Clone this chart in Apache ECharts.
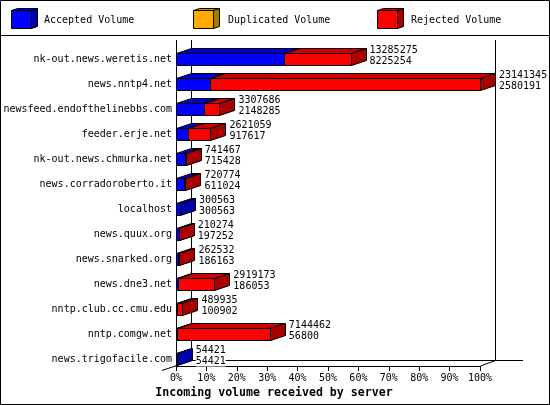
<!DOCTYPE html>
<html>
<head>
<meta charset="utf-8">
<style>html,body{margin:0;padding:0;background:#fff}#c{width:550px;height:405px}</style>
<script src="https://cdn.jsdelivr.net/npm/echarts@6/dist/echarts.min.js"></script>
</head>
<body>
<div id="c"></div>
<script>
var hosts = ['nk-out.news.weretis.net','news.nntp4.net','newsfeed.endofthelinebbs.com','feeder.erje.net','nk-out.news.chmurka.net','news.corradoroberto.it','localhost','news.quux.org','news.snarked.org','news.dne3.net','nntp.club.cc.cmu.edu','nntp.comgw.net','news.trigofacile.com'];
var totalLabels = [13285275,23141345,3307686,2621059,741467,720774,300563,210274,262532,2919173,489935,7144462,54421];
var acceptedVolume = [8225254,2580191,2148285,917617,715428,611024,300563,197252,186163,186053,100902,56800,54421];
var rejectedVolume = [5060021,20561154,1159401,1703442,26039,109750,0,13022,76369,2733120,389033,7087662,0];
var seriesNames = ['Accepted Volume','Duplicated Volume','Rejected Volume'];

var FONT = '"DejaVu Sans Mono", monospace';
var DX = 15, DY = 5, ROWSHIFT = 5.5, HALF = 6;
var BLUE = {front:'#0000ff', top:'#0000cc', side:'#0000aa'};
var ORANGE = {front:'#ffaa00', top:'#cc8800', side:'#aa7700'};
var RED = {front:'#ff0000', top:'#cc0000', side:'#aa0000'};
var maxV = Math.max.apply(null, totalLabels);
function pct(v){ return v / maxV * 100; }

function box(x0, x1, y0, y1, c, dx, dy){
  var st = function(fill){ return {fill:fill, stroke:'#000', lineWidth:1}; };
  return [
    {type:'polygon', shape:{points:[[x0,y0],[x0+dx,y0-dy],[x1+dx,y0-dy],[x1,y0]]}, style:st(c.top)},
    {type:'polygon', shape:{points:[[x1,y0],[x1+dx,y0-dy],[x1+dx,y1-dy],[x1,y1]]}, style:st(c.side)},
    {type:'polygon', shape:{points:[[x0,y0],[x1,y0],[x1,y1],[x0,y1]]}, style:st(c.front)}
  ];
}
function boxRender(colors){
  return function(params, api){
    if (api.value(1) <= api.value(0)) return null;
    var a = api.coord([api.value(0), api.value(2)]);
    var b = api.coord([api.value(1), api.value(2)]);
    var x0 = Math.round(a[0]) + 0.5, x1 = Math.round(b[0]) + 0.5;
    var y = Math.round(a[1] + ROWSHIFT);
    return {type:'group', children: box(x0, x1, y - HALF + 0.5, y + HALF + 0.5, colors, DX, DY)};
  };
}
function labelRender(params, api){
  var p = api.coord([api.value(0), api.value(1)]);
  var x = p[0] + DX + 4, y = p[1] + ROWSHIFT;
  var mk = function(t, dy){
    return {type:'text', style:{x:x, y:y + dy, text:String(t), font:'10px ' + FONT, fill:'#000',
      textAlign:'left', textVerticalAlign:'middle', backgroundColor:'#fff'}};
  };
  return {type:'group', children:[mk(api.value(2), -8.5), mk(api.value(3), 2.5)]};
}

function line(x1,y1,x2,y2){ return {type:'line', z:0, shape:{x1:x1,y1:y1,x2:x2,y2:y2}, style:{stroke:'#000', lineWidth:1}}; }
function swatch(x, c){ return box(x+.5, x+20.5, 10.5, 28.5, c, 6, 2); }
function legendText(x, t){
  return {type:'text', style:{x:x, y:20, text:t, font:'10px ' + FONT, fill:'#000', textVerticalAlign:'middle'}};
}
var graphics = [
  {type:'rect', shape:{x:0.5,y:0.5,width:549,height:404}, style:{fill:'#fff', stroke:'#000', lineWidth:1}, z:-1},
  line(0,35.5,550,35.5),
  line(176.5,40,176.5,42),
  line(191.5,40,191.5,361),
  line(495.5,40,495.5,361),
  line(191,360.5,523,360.5),
  line(162,370.5,191.5,360.5),
  line(480.5,366,495.5,360.5)
].concat(swatch(11,BLUE), swatch(193,ORANGE), swatch(377,RED),
  [legendText(44,seriesNames[0]), legendText(228,seriesNames[1]), legendText(411,seriesNames[2])]);

var acceptedData = hosts.map(function(h,i){ return [0, pct(acceptedVolume[i]), i]; });
var rejectedData = hosts.map(function(h,i){ return [pct(acceptedVolume[i]), pct(acceptedVolume[i]+rejectedVolume[i]), i]; });
var labelData = hosts.map(function(h,i){ return [pct(totalLabels[i]), i, totalLabels[i], acceptedVolume[i]]; });

var chart = echarts.init(document.getElementById('c'), null, {renderer:'canvas'});
chart.setOption({
  animation:false,
  backgroundColor:'#fff',
  title:{text:'Incoming volume received by server', left:274, top:386, textAlign:'center',
    textStyle:{fontFamily:FONT, fontSize:11.6, fontWeight:'bold', color:'#000', lineHeight:14}, padding:0},
  grid:{left:176, right:70, top:41, bottom:39, containLabel:false},
  xAxis:{type:'value', min:0, max:100, interval:10,
    axisLine:{show:true, lineStyle:{color:'#000', width:1}},
    axisTick:{show:true, length:5, lineStyle:{color:'#000', width:1}},
    splitLine:{show:false},
    axisLabel:{fontFamily:FONT, fontSize:10, color:'#000', margin:7, formatter:'{value}%', hideOverlap:false, showMinLabel:true, showMaxLabel:true}},
  yAxis:{type:'category', inverse:true, data:hosts,
    axisLine:{show:true, onZero:false, lineStyle:{color:'#000', width:1}},
    axisTick:{show:false}, splitLine:{show:false},
    axisLabel:{fontFamily:FONT, fontSize:10, color:'#000', margin:4, interval:0, verticalAlign:'top', lineHeight:11}},
  graphic:{elements:graphics},
  series:[
    {type:'custom', name:seriesNames[0], z:3, clip:false, renderItem:boxRender(BLUE), data:acceptedData, encode:{x:[0,1], y:2}},
    {type:'custom', name:seriesNames[2], z:4, clip:false, renderItem:boxRender(RED), data:rejectedData, encode:{x:[0,1], y:2}},
    {type:'custom', name:'labels', z:5, clip:false, renderItem:labelRender, data:labelData, encode:{x:0, y:1}}
  ]
});
</script>
</body>
</html>
